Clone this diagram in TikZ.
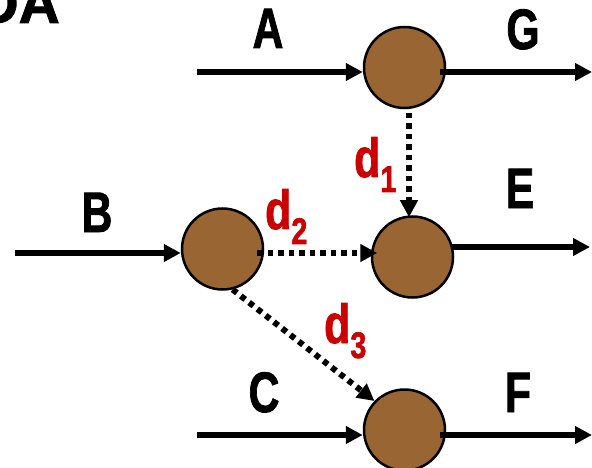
\documentclass[tikz,border=0pt]{standalone}
\usepackage{fontspec}
\setmainfont{Liberation Sans}[BoldFeatures={FakeBold=1.6}]
\usetikzlibrary{arrows.meta}
\definecolor{nodebrown}{HTML}{996633}
\definecolor{labelred}{HTML}{CC0000}
\newcommand{\dsub}[1]{d\raisebox{-15pt}{\fontsize{37}{37}\selectfont #1}}

\begin{document}
\begin{tikzpicture}[x=1pt, y=-1pt,
  junc/.style={circle, draw, line width=2.5pt, fill=nodebrown, minimum size=81pt, inner sep=0pt},
  lbl/.style={font=\fontsize{57}{57}\selectfont\bfseries, xscale=0.75, anchor=base, inner sep=0pt},
  dlbl/.style={font=\fontsize{55}{55}\selectfont\bfseries, text=labelred, xscale=0.78, anchor=base west, inner sep=0pt},
  flow/.style={draw, line width=5.5pt, -{Triangle[length=17pt, width=17pt]}},
  delay/.style={flow, line width=6pt, dash pattern=on 5.5pt off 5pt}]
  \useasboundingbox (0,0) rectangle (592,468);
  \clip (0,0) rectangle (592,468);
  \node[font=\fontsize{57}{57}\selectfont\bfseries, anchor=base east, inner sep=0pt] (DA) at (60,23) {DA};
  \node[lbl] (A) at (268,48) {A};
  \node[lbl] (G) at (523,49) {G};
  \node[lbl] (B) at (97,232) {B};
  \node[lbl] (E) at (520,208) {E};
  \node[lbl] (C) at (264,412) {C};
  \node[lbl] (F) at (518,412) {F};
  \node[dlbl] (d1) at (354,177) {\dsub{1}};
  \node[dlbl] (d2) at (265,229) {\dsub{2}};
  \node[dlbl] (d3) at (324,343) {\dsub{3}};
  \node[junc] (N1) at (404.5,67.5) {};
  \node[junc] (N0) at (222.5,249) {};
  \node[junc] (N2) at (412.5,257) {};
  \node[junc] (N3) at (404.5,430) {};
  \coordinate (a0) at (197,72);
  \coordinate (g0) at (592,72);
  \coordinate (b0) at (15,253);
  \coordinate (e0) at (590,247);
  \coordinate (c0) at (197,435);
  \coordinate (f0) at (592,435);
  \draw[flow] (a0) -- (a0 -| N1.west);
  \draw[flow, shorten <=-6pt] (N1.east |- g0) -- (g0);
  \draw[flow] (b0) -- (b0 -| N0.west);
  \draw[flow, shorten <=-3pt] (N2.east |- e0) -- (e0);
  \draw[flow] (c0) -- (c0 -| N3.west);
  \draw[flow, shorten <=-6pt] (N3.east |- f0) -- (f0);
  \draw[delay] ([xshift=4.5pt, yshift=-3.5pt]N1.south) -- ([xshift=-3.5pt, yshift=-2pt]N2.north);
  \draw[delay] ([xshift=-7pt, yshift=-4pt]N0.east) -- ([xshift=6.5pt, yshift=4pt]N2.west);
  \draw[delay] (N0.-76) -- (N3.136);
\end{tikzpicture}
\end{document}
